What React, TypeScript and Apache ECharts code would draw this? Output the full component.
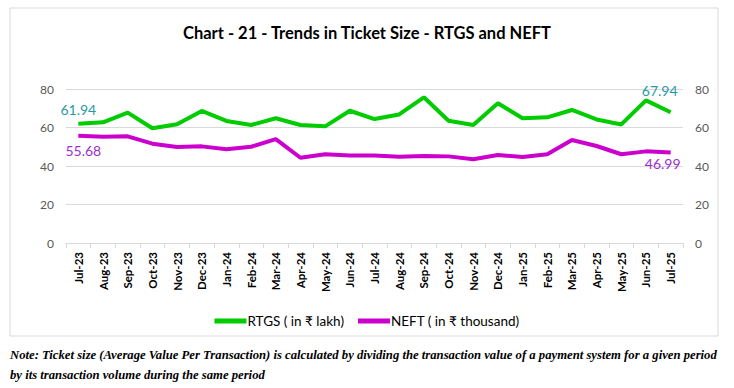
import React, { useEffect, useRef } from "react";
import * as echarts from "echarts";

const categories = [
  "Jul-23", "Aug-23", "Sep-23", "Oct-23", "Nov-23", "Dec-23",
  "Jan-24", "Feb-24", "Mar-24", "Apr-24", "May-24", "Jun-24",
  "Jul-24", "Aug-24", "Sep-24", "Oct-24", "Nov-24", "Dec-24",
  "Jan-25", "Feb-25", "Mar-25", "Apr-25", "May-25", "Jun-25", "Jul-25",
];

const rtgs = [
  61.94, 62.7, 67.7, 59.6, 61.7, 68.6, 63.4, 61.3, 64.8, 61.3, 60.6, 68.7,
  64.4, 66.8, 75.7, 63.5, 61.3, 72.6, 64.8, 65.3, 69.1, 64.2, 61.6, 74.1, 67.94,
];

const neft = [
  55.68, 55.2, 55.4, 51.6, 49.9, 50.2, 48.7, 50.0, 54.0, 44.3, 46.1, 45.4,
  45.5, 44.8, 45.2, 45.0, 43.5, 45.7, 44.7, 46.1, 53.5, 50.4, 46.1, 47.6, 46.99,
];

const yTicks = [0, 20, 40, 60, 80];

const title = "Chart - 21 - Trends in Ticket Size - RTGS and NEFT";
const note1 =
  "Note: Ticket size (Average Value Per Transaction) is calculated by dividing the transaction value of a payment system for a given period";
const note2 = "by its transaction volume during the same period";

const FONT = "Lato, 'Open Sans', sans-serif";
const NOTE_FONT = "italic bold 12.7px 'Liberation Serif', 'DejaVu Serif', serif";

export default function App() {
  const ref = useRef<HTMLDivElement>(null);
  useEffect(() => {
    if (!ref.current) return;
    const chart = echarts.init(ref.current, undefined, { renderer: "svg" });
    const last = categories.length - 1;
    const rtgsData = rtgs.map((v, i) => {
      if (i === 0)
        return { value: v, label: { show: true, position: "top", offset: [0, -2] } };
      if (i === last)
        return { value: v, label: { show: true, position: "top", offset: [-11, -10] } };
      return v;
    });
    const neftData = neft.map((v, i) => {
      if (i === 0)
        return { value: v, label: { show: true, position: "bottom", offset: [5, 3] } };
      if (i === last)
        return { value: v, label: { show: true, position: "bottom", offset: [-8, -1] } };
      return v;
    });
    chart.setOption({
      animation: false,
      backgroundColor: "#ffffff",
      textStyle: { fontFamily: FONT },
      title: {
        text: title,
        left: "center",
        top: 19,
        textStyle: { fontFamily: FONT, fontSize: 16.5, fontWeight: "bold", color: "#000" },
      },
      graphic: [
        {
          type: "rect",
          shape: { x: 10, y: 8, width: 708, height: 328 },
          style: { fill: "none", stroke: "#d9d9d9", lineWidth: 1 },
          z: -1,
        },
        {
          type: "text",
          left: 10,
          top: 348,
          style: { text: note1, font: NOTE_FONT, fill: "#000" },
        },
        {
          type: "text",
          left: 10,
          top: 368,
          style: { text: note2, font: NOTE_FONT, fill: "#000" },
        },
      ],
      legend: {
        top: 309,
        left: "center",
        itemGap: 14,
        itemWidth: 32,
        itemHeight: 5,
        icon: "rect",
        textStyle: { fontFamily: FONT, fontSize: 13.5, color: "#000", padding: [0, 0, 0, -4] },
        data: ["RTGS ( in ₹ lakh)", "NEFT ( in ₹ thousand)"],
      },
      grid: { left: 66, right: 51, top: 89, bottom: 145 },
      xAxis: {
        type: "category",
        data: categories,
        boundaryGap: true,
        axisLine: { lineStyle: { color: "#d9d9d9" } },
        axisTick: { show: true, lineStyle: { color: "#d9d9d9" }, length: 5 },
        axisLabel: {
          rotate: 90,
          interval: 0,
          fontFamily: FONT,
          fontSize: 11.5,
          fontWeight: "bold",
          color: "#000",
          margin: 9,
        },
      },
      yAxis: [
        {
          type: "value",
          min: 0,
          max: 80,
          interval: 20,
          axisLine: { show: false },
          axisTick: { show: false },
          splitLine: { lineStyle: { color: "#d9d9d9" } },
          axisLabel: {
            fontFamily: FONT,
            fontSize: 12,
            color: "#595959",
            margin: 12,
            customValues: yTicks,
          },
        },
        {
          type: "value",
          min: 0,
          max: 80,
          interval: 20,
          position: "right",
          axisLine: { show: false },
          axisTick: { show: false },
          splitLine: { show: false },
          axisLabel: { fontFamily: FONT, fontSize: 12, color: "#595959", margin: 12 },
        },
      ],
      series: [
        {
          name: "RTGS ( in ₹ lakh)",
          type: "line",
          data: rtgsData,
          yAxisIndex: 0,
          symbol: "circle",
          symbolSize: 0,
          showSymbol: true,
          color: "#00cc00",
          lineStyle: { width: 4, color: "#00cc00" },
          label: { fontFamily: FONT, fontSize: 14, color: "#2a9ba3" },
        },
        {
          name: "NEFT ( in ₹ thousand)",
          type: "line",
          data: neftData,
          yAxisIndex: 1,
          symbol: "circle",
          symbolSize: 0,
          showSymbol: true,
          color: "#cc00cc",
          lineStyle: { width: 4, color: "#cc00cc" },
          label: { fontFamily: FONT, fontSize: 14, color: "#9b2fd0" },
        },
      ],
    });
    return () => chart.dispose();
  }, []);
  return (
    <div
      ref={ref}
      style={{ position: "fixed", left: 0, top: 0, width: 734, height: 388 }}
    />
  );
}
